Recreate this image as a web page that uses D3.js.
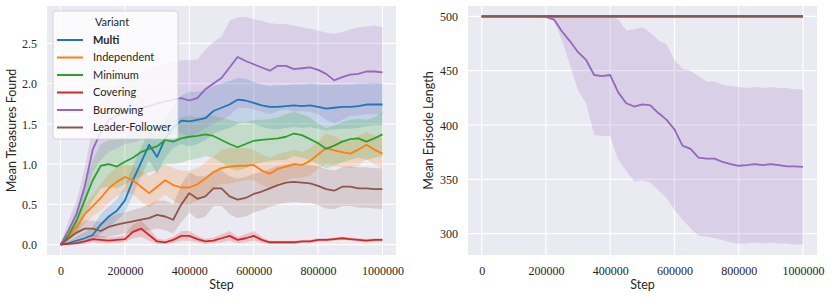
<!DOCTYPE html>
<html>
<head>
<meta charset="utf-8">
<script src="https://cdn.jsdelivr.net/npm/d3@7"></script>
<style>
  body { margin: 0; background: #fff; }
  .tick-label { font-family: "Liberation Serif", serif; font-size: 12px; fill: #262626; }
  .axis-label { font-family: Lato, sans-serif; font-size: 12.5px; fill: #262626; }
  .legend-text { font-family: Lato, sans-serif; font-size: 11px; fill: #262626; }
</style>
</head>
<body>
<div class="canvas"></div>
<script>
// training steps (shared x values)
const steps = [0, 25000, 50000, 75000, 100000, 125000, 150000, 175000, 200000, 225000, 250000, 275000, 300000, 325000, 350000, 375000, 400000, 425000, 450000, 475000, 500000, 525000, 550000, 575000, 600000, 625000, 650000, 675000, 700000, 725000, 750000, 775000, 800000, 825000, 850000, 875000, 900000, 925000, 950000, 975000, 1000000];

const variants = ["Multi", "Independent", "Minimum", "Covering", "Burrowing", "Leader-Follower"];
const colors = ["#1f77b4", "#ff7f0e", "#2ca02c", "#d62728", "#9467bd", "#8c564b"];

// mean treasures found (mean, lower, upper of band)
const multiMean = [0, 0.02, 0.05, 0.08, 0.12, 0.25, 0.35, 0.42, 0.55, 0.8, 1.02, 1.24, 1.09, 1.32, 1.45, 1.54, 1.53, 1.55, 1.57, 1.66, 1.70, 1.74, 1.80, 1.79, 1.76, 1.73, 1.71, 1.71, 1.72, 1.73, 1.72, 1.73, 1.71, 1.69, 1.70, 1.71, 1.71, 1.72, 1.74, 1.74, 1.74];
const multiLo = [0, 0, 0.02, 0.03, 0.05, 0.14, 0.22, 0.3, 0.4, 0.62, 0.85, 1.05, 0.88, 1.08, 1.2, 1.25, 1.22, 1.25, 1.3, 1.38, 1.42, 1.45, 1.5, 1.52, 1.5, 1.46, 1.44, 1.43, 1.45, 1.46, 1.45, 1.46, 1.44, 1.42, 1.43, 1.44, 1.44, 1.45, 1.47, 1.48, 1.48];
const multiHi = [0, 0.04, 0.1, 0.15, 0.22, 0.38, 0.48, 0.56, 0.72, 0.98, 1.2, 1.4, 1.35, 1.55, 1.72, 1.85, 1.9, 1.9, 1.92, 1.97, 2.0, 2.03, 2.07, 2.06, 2.02, 1.99, 1.97, 1.98, 1.98, 1.99, 1.99, 2.0, 1.99, 1.98, 1.99, 1.99, 1.99, 2.0, 2.0, 2.01, 2.0];

const indepMean = [0, 0.1, 0.22, 0.38, 0.48, 0.58, 0.7, 0.78, 0.84, 0.8, 0.72, 0.64, 0.72, 0.8, 0.74, 0.71, 0.71, 0.75, 0.82, 0.9, 0.95, 0.97, 0.98, 0.98, 0.99, 0.92, 0.88, 0.94, 0.97, 1.0, 0.99, 1.04, 1.12, 1.2, 1.17, 1.15, 1.13, 1.18, 1.24, 1.18, 1.13];
const indepLo = [0, 0.05, 0.14, 0.26, 0.35, 0.42, 0.52, 0.6, 0.66, 0.62, 0.54, 0.46, 0.54, 0.62, 0.55, 0.5, 0.5, 0.55, 0.62, 0.7, 0.75, 0.76, 0.78, 0.8, 0.8, 0.74, 0.7, 0.76, 0.8, 0.83, 0.83, 0.86, 0.94, 1.0, 0.98, 0.96, 0.95, 0.98, 1.06, 1.0, 0.95];
const indepHi = [0, 0.15, 0.3, 0.5, 0.62, 0.75, 0.88, 0.96, 1.0, 0.98, 0.92, 0.85, 0.92, 1.0, 0.95, 0.92, 0.92, 0.95, 1.02, 1.1, 1.18, 1.2, 1.2, 1.2, 1.18, 1.12, 1.08, 1.12, 1.15, 1.18, 1.15, 1.2, 1.28, 1.38, 1.35, 1.3, 1.28, 1.35, 1.4, 1.36, 1.32];

const minMean = [0, 0.12, 0.3, 0.55, 0.8, 0.98, 1.0, 0.97, 1.03, 1.08, 1.15, 1.19, 1.22, 1.3, 1.28, 1.32, 1.34, 1.35, 1.37, 1.35, 1.3, 1.25, 1.21, 1.25, 1.29, 1.3, 1.31, 1.32, 1.34, 1.38, 1.36, 1.31, 1.26, 1.19, 1.23, 1.28, 1.31, 1.32, 1.28, 1.32, 1.37];
const minLo = [0, 0.05, 0.15, 0.35, 0.55, 0.7, 0.72, 0.7, 0.75, 0.8, 0.85, 0.9, 0.92, 1.0, 1.0, 1.02, 1.05, 1.07, 1.1, 1.08, 1.02, 0.95, 0.92, 0.95, 1.0, 1.02, 1.04, 1.05, 1.05, 1.1, 1.08, 1.05, 1.0, 0.95, 0.98, 1.02, 1.05, 1.08, 1.05, 1.08, 1.1];
const minHi = [0, 0.2, 0.45, 0.75, 1.05, 1.25, 1.3, 1.3, 1.35, 1.4, 1.45, 1.48, 1.5, 1.55, 1.55, 1.58, 1.6, 1.58, 1.6, 1.6, 1.58, 1.55, 1.52, 1.52, 1.55, 1.55, 1.56, 1.58, 1.62, 1.65, 1.62, 1.58, 1.5, 1.45, 1.48, 1.52, 1.55, 1.56, 1.55, 1.58, 1.65];

const coverMean = [0, 0.01, 0.02, 0.04, 0.07, 0.06, 0.05, 0.06, 0.07, 0.16, 0.2, 0.12, 0.04, 0.03, 0.06, 0.11, 0.11, 0.07, 0.04, 0.05, 0.08, 0.11, 0.06, 0.08, 0.11, 0.06, 0.03, 0.03, 0.03, 0.03, 0.04, 0.04, 0.06, 0.06, 0.07, 0.08, 0.07, 0.06, 0.05, 0.06, 0.06];
const coverLo = [0, 0, 0, 0.01, 0.03, 0.02, 0.02, 0.02, 0.03, 0.08, 0.1, 0.05, 0.01, 0.01, 0.02, 0.05, 0.05, 0.03, 0.01, 0.02, 0.03, 0.05, 0.02, 0.03, 0.05, 0.02, 0.01, 0.01, 0.01, 0.01, 0.02, 0.02, 0.04, 0.04, 0.05, 0.06, 0.05, 0.04, 0.03, 0.04, 0.04];
const coverHi = [0, 0.03, 0.05, 0.08, 0.12, 0.11, 0.09, 0.1, 0.12, 0.25, 0.3, 0.2, 0.08, 0.06, 0.1, 0.17, 0.17, 0.11, 0.07, 0.09, 0.13, 0.17, 0.1, 0.13, 0.17, 0.1, 0.05, 0.05, 0.05, 0.05, 0.06, 0.06, 0.08, 0.08, 0.09, 0.1, 0.09, 0.08, 0.07, 0.08, 0.08];

const burrowMean = [0, 0.18, 0.38, 0.72, 1.18, 1.4, 1.55, 1.6, 1.65, 1.68, 1.7, 1.72, 1.75, 1.78, 1.8, 1.82, 1.79, 1.82, 1.93, 2.0, 2.07, 2.2, 2.33, 2.28, 2.24, 2.2, 2.16, 2.22, 2.22, 2.18, 2.19, 2.2, 2.17, 2.12, 2.04, 2.08, 2.11, 2.12, 2.15, 2.15, 2.14];
const burrowLo = [0, 0.08, 0.22, 0.5, 0.9, 1.05, 1.15, 1.2, 1.25, 1.27, 1.3, 1.3, 1.32, 1.35, 1.37, 1.38, 1.35, 1.38, 1.45, 1.5, 1.55, 1.6, 1.7, 1.7, 1.68, 1.65, 1.62, 1.66, 1.68, 1.65, 1.66, 1.65, 1.62, 1.55, 1.5, 1.55, 1.6, 1.6, 1.62, 1.62, 1.62];
const burrowHi = [0, 0.3, 0.55, 0.95, 1.45, 1.75, 1.9, 2.0, 2.05, 2.1, 2.15, 2.2, 2.22, 2.25, 2.27, 2.29, 2.29, 2.3, 2.42, 2.52, 2.58, 2.78, 2.82, 2.83, 2.8, 2.78, 2.75, 2.74, 2.74, 2.72, 2.7, 2.68, 2.66, 2.63, 2.62, 2.64, 2.67, 2.7, 2.71, 2.72, 2.7];

const leaderMean = [0, 0.08, 0.15, 0.2, 0.2, 0.17, 0.22, 0.25, 0.27, 0.29, 0.31, 0.33, 0.37, 0.35, 0.31, 0.5, 0.64, 0.57, 0.6, 0.7, 0.7, 0.6, 0.56, 0.58, 0.63, 0.66, 0.7, 0.74, 0.77, 0.78, 0.77, 0.76, 0.73, 0.69, 0.67, 0.72, 0.72, 0.7, 0.7, 0.69, 0.69];
const leaderLo = [0, 0.03, 0.07, 0.1, 0.1, 0.08, 0.1, 0.12, 0.14, 0.15, 0.17, 0.18, 0.2, 0.18, 0.14, 0.28, 0.4, 0.32, 0.35, 0.48, 0.48, 0.38, 0.33, 0.35, 0.4, 0.43, 0.47, 0.5, 0.52, 0.53, 0.52, 0.52, 0.49, 0.45, 0.44, 0.48, 0.48, 0.46, 0.46, 0.45, 0.44];
const leaderHi = [0, 0.14, 0.24, 0.3, 0.3, 0.28, 0.34, 0.38, 0.4, 0.43, 0.46, 0.5, 0.55, 0.55, 0.5, 0.75, 0.9, 0.85, 0.85, 0.92, 0.92, 0.85, 0.82, 0.84, 0.88, 0.9, 0.94, 0.98, 1.0, 1.01, 1.0, 0.99, 0.97, 0.94, 0.92, 0.96, 0.97, 0.96, 0.96, 0.95, 0.95];

// mean episode length: burrowing drops, all other variants stay at the cap
const burrowLenMean = [500, 500, 500, 500, 500, 500, 500, 500, 499.5, 497, 486, 477, 467, 460, 446, 445, 446, 430, 420, 417, 419, 418, 411, 405, 396, 381, 378, 370, 369, 369, 366, 364, 362.5, 363, 364, 363, 364, 363, 362, 362, 361.5];
const burrowLenLo = [500, 500, 500, 500, 500, 500, 500, 500, 499.5, 496, 478, 455, 432, 420, 391, 390, 390, 368, 358, 348, 349, 347, 340, 333, 322, 313, 305, 298, 297, 296, 294, 292, 291, 291, 292, 291, 292, 291, 291, 290, 290];
const burrowLenHi = [500, 500, 500, 500, 500, 500, 500, 500, 500, 500, 500, 500, 500, 500, 500, 500, 500, 497, 487, 488, 490, 485, 478, 474, 460, 452, 450, 445, 440, 440, 437, 436, 435, 434, 435, 434, 435, 434, 434, 433, 433];
const otherLen = [500, 500, 500, 500, 500, 500, 500, 500, 500, 500, 500, 500, 500, 500, 500, 500, 500, 500, 500, 500, 500, 500, 500, 500, 500, 500, 500, 500, 500, 500, 500, 500, 500, 500, 500, 500, 500, 500, 500, 500, 500];

// tick values
const stepTicks = [0, 200000, 400000, 600000, 800000, 1000000];
const treasureTicks = [0, 0.5, 1.0, 1.5, 2.0, 2.5];
const lengthTicks = [300, 350, 400, 450, 500];

// tables built from the arrays above
const treasureSeries = [
  [multiMean, multiLo, multiHi],
  [indepMean, indepLo, indepHi],
  [minMean, minLo, minHi],
  [coverMean, coverLo, coverHi],
  [burrowMean, burrowLo, burrowHi],
  [leaderMean, leaderLo, leaderHi]
];
const lengthSeries = [
  [otherLen, otherLen, otherLen],
  [otherLen, otherLen, otherLen],
  [otherLen, otherLen, otherLen],
  [otherLen, otherLen, otherLen],
  [burrowLenMean, burrowLenLo, burrowLenHi],
  [otherLen, otherLen, otherLen]
];

// dimensions
const w = 831;
const h = 298;
const bgColor = "#eaeaf2";

const svg = d3.select(".canvas").append("svg").attr("width", w).attr("height", h);

// draws one panel with bands, lines, grid and axes
function drawPanel(opts) {
  const { left, right, top, bottom, xDomain, yDomain, yTicks, yFormat, series, yLabel, yLabelX, id } = opts;

  const xScale = d3.scaleLinear().domain(xDomain).range([left, right]);
  const yScale = d3.scaleLinear().domain(yDomain).range([bottom, top]);

  const g = svg.append("g");

  g.append("rect")
    .attr("x", left)
    .attr("y", top)
    .attr("width", right - left)
    .attr("height", bottom - top)
    .attr("fill", bgColor);

  g.append("clipPath")
    .attr("id", id)
    .append("rect")
    .attr("x", left)
    .attr("y", top)
    .attr("width", right - left)
    .attr("height", bottom - top);

  // grid lines
  g.selectAll(".vgrid")
    .data(stepTicks)
    .enter()
    .append("line")
    .attr("x1", d => xScale(d))
    .attr("x2", d => xScale(d))
    .attr("y1", top)
    .attr("y2", bottom)
    .attr("stroke", "#fff")
    .attr("stroke-width", 1.2);

  g.selectAll(".hgrid")
    .data(yTicks)
    .enter()
    .append("line")
    .attr("x1", left)
    .attr("x2", right)
    .attr("y1", d => yScale(d))
    .attr("y2", d => yScale(d))
    .attr("stroke", "#fff")
    .attr("stroke-width", 1.2);

  const plot = g.append("g").attr("clip-path", `url(#${id})`);

  const area = d3.area()
    .x((d, i) => xScale(steps[i]))
    .y0(d => yScale(d[0]))
    .y1(d => yScale(d[1]));

  const line = d3.line()
    .x((d, i) => xScale(steps[i]))
    .y(d => yScale(d));

  // confidence bands
  series.forEach((s, k) => {
    const band = s[1].map((lo, i) => [lo, s[2][i]]);
    plot.append("path")
      .attr("d", area(band))
      .attr("fill", colors[k])
      .attr("fill-opacity", 0.2)
      .attr("stroke", "none");
  });

  // mean lines
  series.forEach((s, k) => {
    plot.append("path")
      .attr("d", line(s[0]))
      .attr("fill", "none")
      .attr("stroke", colors[k])
      .attr("stroke-width", 1.8)
      .attr("stroke-linejoin", "round");
  });

  // axes
  const xAxis = d3.axisBottom(xScale).tickValues(stepTicks).tickSize(0).tickPadding(0).tickFormat(d3.format("d"));
  const xg = g.append("g").attr("transform", `translate(0, ${bottom})`).call(xAxis);
  xg.select(".domain").remove();
  xg.selectAll("text").attr("class", "tick-label").attr("y", 20).attr("dy", 0).attr("fill", null);

  const yAxis = d3.axisLeft(yScale).tickValues(yTicks).tickSize(0).tickPadding(0).tickFormat(yFormat);
  const yg = g.append("g").attr("transform", `translate(${left - 10}, 0)`).call(yAxis);
  yg.select(".domain").remove();
  yg.selectAll("text").attr("class", "tick-label").attr("dy", "0.35em").attr("fill", null);

  g.append("text")
    .attr("class", "axis-label")
    .attr("x", (left + right) / 2)
    .attr("y", 289)
    .attr("text-anchor", "middle")
    .text("Step");

  g.append("text")
    .attr("class", "axis-label")
    .attr("transform", `translate(${yLabelX}, ${(top + bottom) / 2}) rotate(-90)`)
    .attr("text-anchor", "middle")
    .attr("dy", "0.35em")
    .text(yLabel);
}

drawPanel({
  id: "clipLeft",
  left: 47, right: 396, top: 6, bottom: 255,
  xDomain: [-42000, 1042000],
  yDomain: [-0.128, 2.963],
  yTicks: treasureTicks,
  yFormat: d3.format(".1f"),
  series: treasureSeries,
  yLabel: "Mean Treasures Found",
  yLabelX: 12
});

drawPanel({
  id: "clipRight",
  left: 468, right: 817, top: 6, bottom: 255,
  xDomain: [-42600, 1043700],
  yDomain: [280.4, 509.5],
  yTicks: lengthTicks,
  yFormat: d3.format("d"),
  series: lengthSeries,
  yLabel: "Mean Episode Length",
  yLabelX: 429
});

// legend
const legend = svg.append("g").attr("transform", "translate(53, 11)");

legend.append("rect")
  .attr("width", 125)
  .attr("height", 128)
  .attr("rx", 3)
  .attr("fill", "#fff")
  .attr("fill-opacity", 0.8)
  .attr("stroke", "#cccccc")
  .attr("stroke-width", 0.8);

legend.append("text")
  .attr("class", "legend-text")
  .attr("x", 59)
  .attr("y", 11)
  .attr("text-anchor", "middle")
  .attr("dy", "0.35em")
  .text("Variant");

const entries = legend.selectAll(".entry")
  .data(variants)
  .enter()
  .append("g")
  .attr("transform", (d, i) => `translate(0, ${29 + i * 17.5})`);

entries.append("line")
  .attr("x1", 4)
  .attr("x2", 30)
  .attr("stroke", (d, i) => colors[i])
  .attr("stroke-width", 2);

entries.append("text")
  .attr("class", "legend-text")
  .attr("x", 40)
  .attr("dy", "0.35em")
  .attr("font-weight", (d, i) => i === 0 ? "bold" : null)
  .text(d => d);
</script>
</body>
</html>
